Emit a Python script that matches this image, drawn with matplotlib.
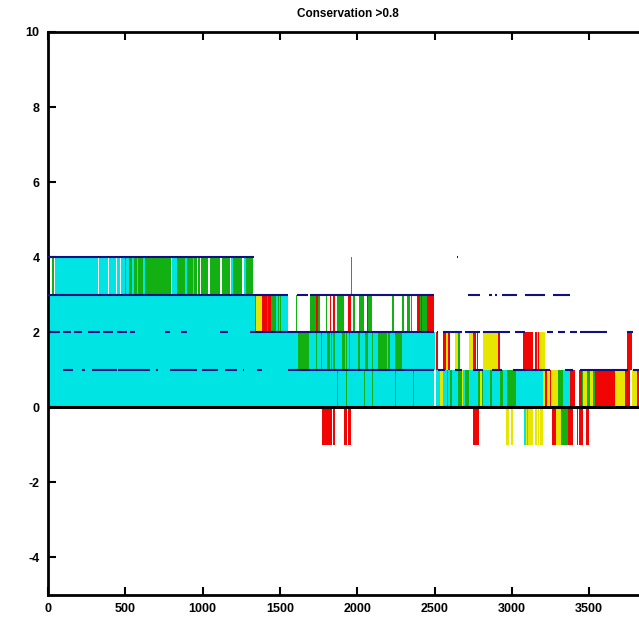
import matplotlib
matplotlib.use('Agg')
import matplotlib.pyplot as plt

# runs of residues in each unit band: (start, end, class)
# c = cyan, g = green, y = yellow, r = red
band_neg = [(1770, 1828, 'r'), (1831, 1838, 'r'), (1841, 1857, 'r'), (1915, 1932, 'r'),
            (1942, 1958, 'r'), (2746, 2785, 'r'), (2962, 2983, 'y'), (2994, 3010, 'y'),
            (3081, 3092, 'c'), (3092, 3098, 'y'), (3098, 3103, 'c'), (3103, 3128, 'y'),
            (3133, 3139, 'y'), (3141, 3146, 'r'), (3150, 3161, 'y'), (3169, 3175, 'y'),
            (3182, 3204, 'y'), (3260, 3288, 'r'), (3288, 3320, 'y'), (3320, 3363, 'g'),
            (3363, 3396, 'r'), (3418, 3428, 'r'), (3437, 3458, 'r'), (3480, 3498, 'r')]

band_0 = [(0, 2497, 'c'), (1868, 1875, 'g'), (1924, 1931, 'g'), (2041, 2048, 'g'),
          (2095, 2101, 'g'), (2241, 2248, 'g'), (2360, 2367, 'g'),
          (2508, 2536, 'c'), (2536, 2557, 'y'), (2557, 2579, 'c'), (2579, 2589, 'g'),
          (2589, 2600, 'c'), (2600, 2611, 'g'), (2611, 2654, 'c'), (2654, 2675, 'g'),
          (2675, 2686, 'y'), (2686, 2697, 'c'), (2697, 2725, 'g'), (2725, 2783, 'c'),
          (2783, 2795, 'g'), (2795, 2805, 'y'), (2805, 2815, 'g'), (2815, 2859, 'c'),
          (2859, 2870, 'g'), (2870, 2924, 'c'), (2924, 2941, 'g'), (2941, 2967, 'c'),
          (2967, 3027, 'g'), (3027, 3204, 'c'), (3204, 3215, 'y'), (3215, 3225, 'r'),
          (3225, 3247, 'y'), (3247, 3255, 'r'), (3255, 3301, 'y'), (3301, 3333, 'g'),
          (3333, 3376, 'c'), (3376, 3409, 'r'), (3437, 3452, 'r'), (3452, 3462, 'g'),
          (3462, 3484, 'y'), (3484, 3506, 'g'), (3506, 3527, 'y'), (3527, 3538, 'g'),
          (3538, 3667, 'r'), (3667, 3732, 'y'), (3732, 3764, 'r'), (3775, 3807, 'y'),
          (3807, 3830, 'r')]

band_1 = [(0, 1615, 'c'), (1615, 1688, 'g'), (1688, 2503, 'c'), (1735, 1742, 'g'),
          (1763, 1770, 'g'), (1805, 1824, 'g'), (1832, 1839, 'g'), (1843, 1856, 'g'),
          (1900, 1921, 'g'), (1929, 1936, 'g'), (1947, 1953, 'g'), (2005, 2018, 'g'),
          (2050, 2070, 'g'), (2093, 2100, 'g'), (2134, 2191, 'g'), (2199, 2212, 'g'),
          (2244, 2288, 'g'), (2508, 2524, 'r'), (2557, 2572, 'r'), (2572, 2587, 'y'),
          (2587, 2600, 'r'), (2632, 2654, 'y'), (2654, 2665, 'g'), (2723, 2749, 'y'),
          (2749, 2768, 'r'), (2775, 2782, 'r'), (2816, 2913, 'y'), (2913, 2924, 'r'),
          (3074, 3139, 'r'), (3150, 3161, 'r'), (3161, 3215, 'y'), (3169, 3175, 'r'),
          (3743, 3775, 'r')]

band_2 = [(0, 1339, 'c'), (1339, 1346, 'g'), (1346, 1382, 'y'), (1382, 1414, 'r'),
          (1414, 1424, 'g'), (1424, 1440, 'r'), (1440, 1475, 'g'), (1475, 1552, 'c'),
          (1487, 1493, 'g'), (1502, 1508, 'g'), (1604, 1612, 'g'), (1695, 1731, 'g'),
          (1731, 1744, 'r'), (1744, 1759, 'g'), (1797, 1804, 'g'), (1823, 1830, 'r'),
          (1841, 1854, 'r'), (1869, 1900, 'g'), (1902, 1915, 'g'), (1942, 1958, 'r'),
          (1975, 1986, 'g'), (2013, 2044, 'g'), (2061, 2072, 'r'), (2072, 2094, 'g'),
          (2223, 2238, 'g'), (2288, 2303, 'g'), (2320, 2341, 'g'), (2349, 2355, 'g'),
          (2385, 2406, 'r'), (2406, 2438, 'g'), (2412, 2420, 'r'), (2438, 2451, 'g'),
          (2451, 2497, 'r')]

band_3 = [(0, 12, 'g'), (26, 36, 'g'), (46, 322, 'c'), (328, 386, 'c'), (392, 438, 'c'),
          (446, 468, 'c'), (474, 495, 'c'), (495, 505, 'g'), (505, 525, 'c'),
          (525, 540, 'g'), (540, 555, 'c'), (555, 575, 'g'), (575, 585, 'c'),
          (585, 615, 'g'), (615, 625, 'c'), (625, 793, 'g'), (805, 832, 'c'),
          (832, 886, 'g'), (886, 899, 'c'), (899, 935, 'g'), (935, 942, 'c'),
          (942, 964, 'g'), (970, 985, 'g'), (992, 1035, 'g'), (1048, 1112, 'g'),
          (1123, 1177, 'g'), (1185, 1195, 'c'), (1195, 1253, 'g'), (1270, 1281, 'c'),
          (1281, 1326, 'g'), (1961, 1969, 'g')]

bands = [(-1, band_neg), (0, band_0), (1, band_1), (2, band_2), (3, band_3)]

# dark blue point runs: (level, start, end)
dot_runs = [(4, 0, 1335), (4, 2646, 2654),
            (3, 0, 1552), (3, 1611, 1682), (3, 1695, 2497), (3, 2717, 2794),
            (3, 2852, 2872), (3, 2891, 2904), (3, 2936, 3033), (3, 3085, 3215),
            (3, 3266, 3376),
            (2, 13, 80), (2, 95, 150), (2, 170, 220), (2, 259, 336), (2, 356, 420),
            (2, 446, 511), (2, 530, 563), (2, 757, 790), (2, 860, 899), (2, 1112, 1164),
            (2, 1307, 2497), (2, 2458, 2484), (2, 2516, 2523), (2, 2555, 2678),
            (2, 2697, 2794), (2, 2814, 2988), (2, 3021, 3085), (2, 3228, 3266),
            (2, 3299, 3344), (2, 3376, 3422), (2, 3441, 3616), (2, 3745, 3783),
            (1, 97, 162), (1, 220, 240), (1, 285, 446), (1, 452, 660), (1, 700, 710),
            (1, 789, 964), (1, 997, 1100), (1, 1145, 1223), (1, 1260, 1265),
            (1, 1352, 1384), (1, 1552, 2497), (1, 2523, 2568), (1, 2632, 2678),
            (1, 2749, 2814), (1, 2872, 2936), (1, 3008, 3247), (1, 3344, 3396),
            (1, 3441, 3751), (1, 3783, 3830)]

colours = {'c': '#00e4e4', 'g': '#12b012', 'y': '#e6e600', 'r': '#f00404'}

plt.rcParams['font.family'] = ['Liberation Sans', 'DejaVu Sans']
plt.rcParams['axes.unicode_minus'] = False
fig = plt.figure(figsize=(6.39, 6.17), dpi=100)
ax = fig.add_axes([48 / 639, 22 / 617, 600 / 639, 563 / 617])

for bottom, runs in bands:
    for start, end, k in runs:
        ax.bar(start, 1, width=end - start, bottom=bottom, align='edge',
               color=colours[k], linewidth=0, antialiased=False)

for level, start, end in dot_runs:
    ax.hlines(level, start, end, color='#101080', lw=1.5, zorder=3)

ax.axhline(0, color='black', lw=2.2, zorder=4)

ax.set_xlim(0, 3880)
ax.set_ylim(-5, 10)
ax.set_xticks(range(0, 4000, 500))
ax.set_yticks(range(-4, 11, 2))
ax.tick_params(direction='in', length=6, width=1.5, labelsize=9, top=True,
               pad=6)
for lab in ax.get_xticklabels() + ax.get_yticklabels():
    lab.set_fontweight('bold')
for s in ax.spines.values():
    s.set_linewidth(2)
ax.spines['right'].set_visible(False)
ax.set_title('Conservation >0.8', fontsize=8.5, fontweight='bold', pad=11)

fig.savefig('out.png', dpi=100)
